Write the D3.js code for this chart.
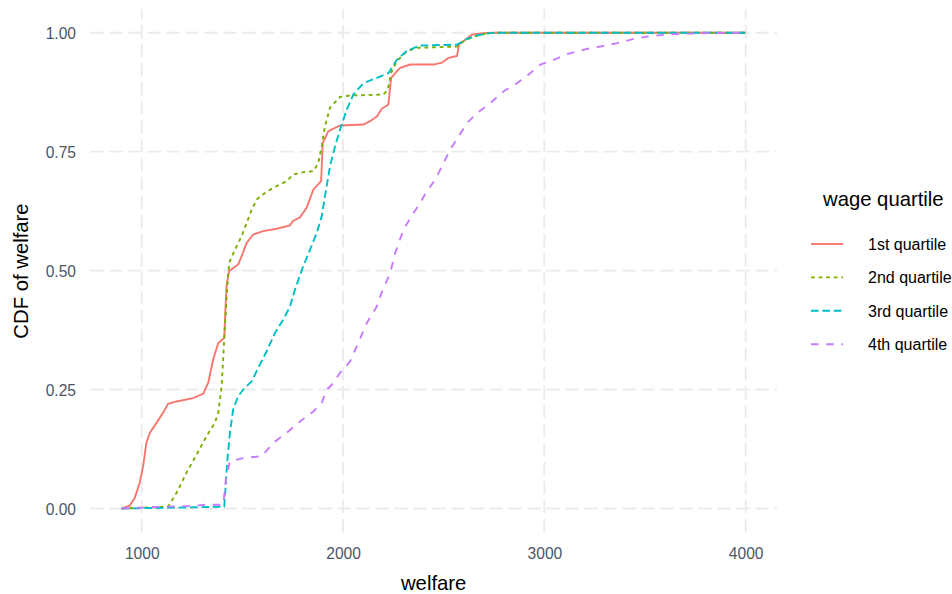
<!DOCTYPE html>
<html>
<head>
<meta charset="utf-8">
<script src="https://cdn.jsdelivr.net/npm/d3@7"></script>
<style>
  html, body { margin: 0; padding: 0; background: #fff; }
  svg { display: block; font-family: "Liberation Sans", Arial, sans-serif; }
</style>
</head>
<body>
<svg id="chart" width="952" height="594"></svg>
<script>
// Empirical CDF of welfare by wage quartile: [welfare, cumulative share]
const q1 = [[900,0],[940,0.006],[965,0.022],[990,0.054],[1007,0.089],[1023,0.138],[1040,0.159],[1073,0.18],[1106,0.201],[1131,0.22],[1173,0.225],[1255,0.232],[1305,0.241],[1330,0.264],[1355,0.313],[1380,0.348],[1410,0.359],[1415,0.411],[1421,0.467],[1434,0.499],[1479,0.513],[1496,0.53],[1521,0.558],[1554,0.576],[1603,0.583],[1670,0.588],[1736,0.595],[1750,0.604],[1786,0.612],[1819,0.632],[1852,0.67],[1891,0.688],[1899,0.768],[1927,0.793],[1960,0.80],[1985,0.805],[2101,0.807],[2134,0.814],[2168,0.824],[2192,0.840],[2225,0.849],[2239,0.905],[2259,0.915],[2284,0.926],[2333,0.933],[2449,0.933],[2491,0.937],[2524,0.947],[2566,0.951],[2576,0.975],[2607,0.985],[2640,0.996],[2698,0.999],[2748,1],[4000,1]];
const q2 = [[900,0],[1131,0.004],[1173,0.033],[1222,0.075],[1272,0.113],[1322,0.152],[1363,0.18],[1380,0.201],[1397,0.257],[1405,0.32],[1413,0.383],[1421,0.439],[1429,0.495],[1438,0.52],[1463,0.544],[1496,0.572],[1521,0.60],[1546,0.628],[1571,0.649],[1587,0.656],[1653,0.674],[1720,0.688],[1753,0.702],[1803,0.707],[1852,0.709],[1877,0.726],[1894,0.761],[1910,0.803],[1935,0.842],[1985,0.865],[2035,0.868],[2200,0.870],[2222,0.880],[2240,0.917],[2267,0.940],[2317,0.961],[2367,0.968],[2566,0.971],[2599,0.982],[2649,0.992],[2715,0.999],[2760,1],[4000,1]];
const q3 = [[900,0],[1200,0.002],[1410,0.004],[1418,0.054],[1424,0.096],[1438,0.159],[1454,0.208],[1479,0.236],[1512,0.254],[1546,0.267],[1579,0.296],[1620,0.33],[1662,0.369],[1703,0.397],[1736,0.424],[1761,0.46],[1802,0.509],[1836,0.544],[1869,0.579],[1894,0.614],[1910,0.656],[1935,0.719],[1960,0.761],[1985,0.796],[2018,0.838],[2051,0.870],[2101,0.894],[2168,0.905],[2225,0.915],[2267,0.943],[2317,0.962],[2383,0.973],[2566,0.975],[2615,0.987],[2665,0.994],[2731,0.999],[2770,1],[4000,1]];
const q4 = [[900,0],[1123,0.004],[1222,0.005],[1322,0.008],[1405,0.008],[1418,0.061],[1438,0.099],[1504,0.106],[1596,0.11],[1653,0.138],[1720,0.159],[1786,0.183],[1852,0.204],[1894,0.222],[1919,0.25],[1944,0.26],[1985,0.285],[2035,0.309],[2068,0.341],[2118,0.39],[2168,0.425],[2190,0.452],[2234,0.495],[2259,0.537],[2300,0.586],[2350,0.621],[2383,0.642],[2416,0.667],[2458,0.691],[2499,0.726],[2532,0.754],[2574,0.782],[2615,0.81],[2665,0.831],[2731,0.852],[2798,0.877],[2864,0.894],[2922,0.912],[2980,0.933],[3046,0.943],[3113,0.955],[3213,0.966],[3279,0.971],[3362,0.978],[3444,0.987],[3511,0.992],[3610,0.996],[3710,0.998],[3809,0.999],[4000,1]];

const seriesNames = ["1st quartile", "2nd quartile", "3rd quartile", "4th quartile"];
const seriesData = [q1, q2, q3, q4];
const seriesColors = ["#F8766D", "#7CAE00", "#00BFC4", "#C77CFF"];
const seriesDashes = [null, "3.8,3.8", "7.6,3.8", "7.6,7.6"];
const xTicks = [1000, 2000, 3000, 4000];
const yTicks = [0, 0.25, 0.5, 0.75, 1];

const svg = d3.select("#chart");
const panel = { left: 90.4, right: 776.9, top: 8.9, bottom: 532.3 };

// continuous scales with 5% padding on each side
const allX = seriesData.flat().map(d => d[0]);
const xMin = d3.min(allX), xMax = d3.max(allX), xPad = (xMax - xMin) * 0.05;
const x = d3.scaleLinear().domain([xMin - xPad, xMax + xPad]).range([panel.left, panel.right]);
const y = d3.scaleLinear().domain([-0.05, 1.05]).range([panel.bottom, panel.top]);

// dashed major grid
const grid = svg.append("g").attr("stroke", "#EBEBEB").attr("stroke-width", 1.9)
  .attr("stroke-dasharray", "13.3,5.7").attr("fill", "none");
grid.selectAll("line.h").data(yTicks).join("line").attr("class", "h")
  .attr("x1", panel.left).attr("x2", panel.right)
  .attr("y1", d => y(d)).attr("y2", d => y(d));
grid.selectAll("line.v").data(xTicks).join("line").attr("class", "v")
  .attr("x1", d => x(d)).attr("x2", d => x(d))
  .attr("y1", panel.bottom).attr("y2", panel.top);

// axes (labels only)
const tickColor = "#4B5567";
const xAxis = svg.append("g").attr("transform", `translate(0,${panel.bottom})`)
  .call(d3.axisBottom(x).tickValues(xTicks).tickSize(0).tickPadding(15.5).tickFormat(d3.format("d")));
const yAxis = svg.append("g").attr("transform", `translate(${panel.left},0)`)
  .call(d3.axisLeft(y).tickValues(yTicks).tickSize(0).tickPadding(14.4).tickFormat(d3.format(".2f")));
[xAxis, yAxis].forEach(a => {
  a.select(".domain").remove();
  a.selectAll("text").attr("fill", tickColor).style("font-size", "15.6px")
    .style("font-family", '"Liberation Sans", Arial, sans-serif');
});
yAxis.selectAll("text").attr("dy", "0.36em");

// CDF lines
const line = d3.line().x(d => x(d[0])).y(d => y(d[1]));
svg.append("g").selectAll("path").data(seriesData).join("path")
  .attr("d", line)
  .attr("fill", "none")
  .attr("stroke", (d, i) => seriesColors[i])
  .attr("stroke-width", 1.9)
  .attr("stroke-dasharray", (d, i) => seriesDashes[i]);

// axis titles
svg.append("text").attr("x", (panel.left + panel.right) / 2).attr("y", 590)
  .attr("text-anchor", "middle").style("font-size", "20.3px").attr("fill", "#000").text("welfare");
svg.append("text").attr("transform", "translate(28.3,271) rotate(-90)")
  .attr("text-anchor", "middle").style("font-size", "20.3px").attr("fill", "#000").text("CDF of welfare");

// legend
const legend = svg.append("g");
legend.append("text").attr("x", 823).attr("y", 206).style("font-size", "20.3px")
  .attr("fill", "#000").text("wage quartile");
const rows = legend.selectAll("g.row").data(seriesNames).join("g").attr("class", "row")
  .attr("transform", (d, i) => `translate(0,${244 + i * 33.4})`);
rows.append("line").attr("x1", 811).attr("x2", 843).attr("y1", 0).attr("y2", 0)
  .attr("stroke", (d, i) => seriesColors[i]).attr("stroke-width", 1.9)
  .attr("stroke-dasharray", (d, i) => seriesDashes[i]);
rows.append("text").attr("x", 868).attr("dy", "0.36em").style("font-size", "16px")
  .attr("fill", "#000").text(d => d);
</script>
</body>
</html>
